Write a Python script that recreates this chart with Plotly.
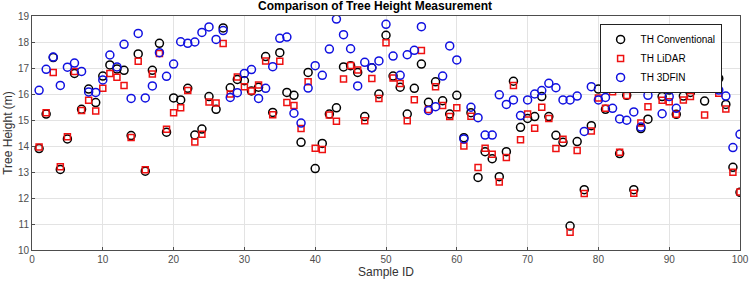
import plotly.graph_objects as go

sample_id = list(range(1, 101))

th_conventional = [
    13.90, 15.23, 17.40, 13.10, 14.27, 16.79, 15.41, 16.19, 15.67, 16.69,
    17.12, 16.96, 16.91, 14.40, 17.54, 13.03, 16.91, 17.95, 14.53, 15.85,
    15.77, 16.22, 14.42, 14.65, 15.90, 15.41, 18.54, 16.24, 16.56, 16.51,
    16.12, 16.26, 17.44, 15.29, 17.59, 16.06, 15.95, 14.14, 16.83, 13.13,
    14.10, 15.23, 15.47, 17.04, 17.09, 16.83, 15.13, 17.01, 16.00, 18.26,
    16.69, 16.26, 15.23, 16.22, 17.15, 15.68, 16.47, 15.74, 15.23, 15.95,
    14.32, 15.28, 12.79, 13.78, 13.51, 12.82, 13.78, 16.49, 14.72, 15.06,
    15.13, 15.90, 15.13, 14.41, 14.14, 10.92, 14.17, 12.32, 14.78, 16.19,
    15.41, 16.42, 13.71, 15.95, 12.32, 14.67, 15.03, 16.40, 15.90, 16.15,
    15.22, 15.92, 16.06, None, 15.73, 16.47, 16.60, 15.60, 13.18, 12.22,
]

th_lidar = [
    13.96, 15.28, 16.83, 13.20, 14.36, 16.87, 15.37, 15.76, 15.35, 16.22,
    16.79, 16.64, 16.33, 14.33, 17.26, 13.09, 16.77, 17.56, 14.64, 15.28,
    15.47, 16.13, 14.15, 14.45, 15.69, 15.65, 17.94, 16.00, 16.65, 16.28,
    16.12, 16.35, 17.27, 15.20, 17.26, 15.67, 15.56, 14.67, 16.47, 13.91,
    13.87, 15.19, 14.95, 16.58, 17.10, 16.92, 14.97, 16.60, 15.83, 17.97,
    16.62, 16.40, 14.97, 15.78, 17.67, 15.40, 16.28, 15.56, 15.13, 15.47,
    14.00, 15.14, 13.17, 13.91, 13.68, 12.62, 13.56, 16.33, 14.24, 15.23,
    14.68, 15.49, 15.06, 13.90, 14.26, 10.68, 13.83, 12.17, 14.58, 15.85,
    15.45, 16.09, 13.76, 15.94, 12.18, 14.88, 15.51, 16.46, 15.76, 15.70,
    15.22, 15.77, 15.90, None, 15.19, 16.46, 16.03, 15.42, 12.99, 12.23,
]

th_3dfin = [
    16.14, 16.95, 17.42, 16.33, 17.03, 17.19, 16.87, 16.08, 16.06, 16.54,
    17.50, 17.04, 17.91, 15.83, 18.33, 15.85, 16.31, 17.59, 16.68, 17.15,
    18.01, 17.95, 18.00, 18.37, 18.58, 18.10, 18.44, 15.87, 16.05, 16.79,
    16.94, 15.83, 16.22, 17.05, 18.14, 18.19, 15.26, 14.88, 16.23, 17.09,
    16.72, 17.73, 18.88, 18.28, 17.74, 16.31, 17.22, 17.01, 17.27, 18.68,
    17.46, 16.72, 17.51, 17.68, 18.59, 15.37, 15.51, 16.69, 17.85, 17.31,
    14.27, 15.49, 15.09, 14.42, 14.42, 15.97, 15.60, 15.77, 15.17, 15.77,
    16.00, 16.13, 16.41, 16.24, 15.77, 15.77, 15.92, 14.56, 16.28, 15.77,
    15.87, 15.45, 15.04, 14.99, 15.31, 14.73, 15.95, None, 15.24, 15.90,
    15.45, 16.31, None, None, None, 16.50, 16.15, 15.92, 13.94, 14.45,
]

x_ticks = [0, 10, 20, 30, 40, 50, 60, 70, 80, 90, 100]
y_ticks = [10, 11, 12, 13, 14, 15, 16, 17, 18, 19]

font_family = "Liberation Sans, Arial, Helvetica, sans-serif"

fig = go.Figure()
fig.add_trace(go.Scatter(
    x=sample_id, y=th_conventional, mode="markers", name="TH Conventional",
    marker=dict(symbol="circle-open", size=8, color="black", line=dict(width=1.5, color="black")),
))
fig.add_trace(go.Scatter(
    x=sample_id, y=th_lidar, mode="markers", name="TH LiDAR",
    marker=dict(symbol="square-open", size=6, color="#ee1111", line=dict(width=1.5, color="#ee1111")),
))
fig.add_trace(go.Scatter(
    x=sample_id, y=th_3dfin, mode="markers", name="TH 3DFIN",
    marker=dict(symbol="circle-open", size=8, color="#1010e0", line=dict(width=1.5, color="#1010e0")),
))

axis_common = dict(
    showgrid=True, gridcolor="#e3e3e3", gridwidth=1,
    showline=True, linecolor="#4d4d4d", linewidth=1, mirror=True,
    ticks="inside", ticklen=3, tickcolor="#4d4d4d",
    tickfont=dict(family=font_family, size=10, color="#4d4d4d"),
    zeroline=False, automargin=False,
)

fig.update_layout(
    width=750, height=285,
    margin=dict(l=32, r=10, t=16, b=35),
    paper_bgcolor="white", plot_bgcolor="white",
    title=dict(text="<b>Comparison of Tree Height Measurement</b>", x=0.5, xanchor="center",
               y=0.995, yanchor="top", font=dict(family=font_family, size=12, color="black")),
    xaxis=dict(range=[0, 100], tickvals=x_ticks,
               title=dict(text="Sample ID", standoff=3, font=dict(family=font_family, size=12, color="#333333")),
               **axis_common),
    yaxis=dict(range=[10, 19], tickvals=y_ticks,
               title=dict(text="Tree Height (m)", standoff=2, font=dict(family=font_family, size=12, color="#333333")),
               **axis_common),
    legend=dict(x=0.974, y=0.966, xanchor="right", yanchor="top",
                bgcolor="white", bordercolor="#222222", borderwidth=1,
                font=dict(family=font_family, size=10, color="black"),
                itemwidth=30, tracegroupgap=0),
    showlegend=True,
)

fig.write_html("out.html", config={"displayModeBar": False},
               post_script="document.body.style.margin='0';")
